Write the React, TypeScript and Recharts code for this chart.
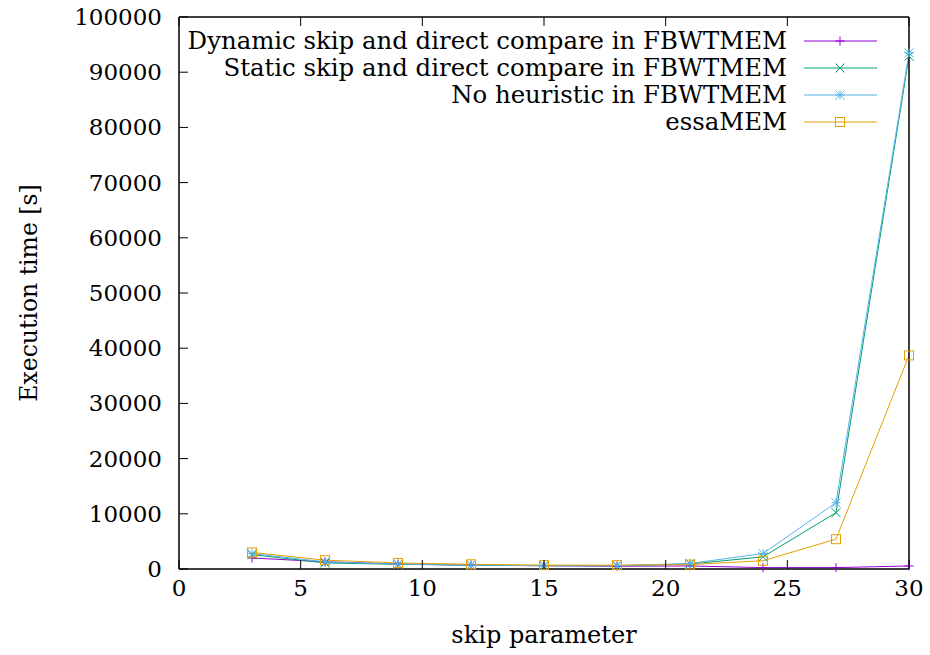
import React from "react";
import { LineChart, Line, XAxis, YAxis } from "recharts";

const skipValues = [3, 6, 9, 12, 15, 18, 21, 24, 27, 30];
const dynamicSkip = [2000, 1300, 900, 700, 600, 500, 550, 250, 250, 550];
const staticSkip = [2600, 1100, 850, 700, 600, 600, 900, 2200, 10200, 92900];
const noHeuristic = [2800, 1300, 900, 700, 600, 600, 1000, 2800, 12000, 93500];
const essaMEM = [3000, 1600, 1100, 850, 700, 700, 800, 1500, 5400, 38700];

const xTicks = [0, 5, 10, 15, 20, 25, 30];
const yTicks = [0, 10000, 20000, 30000, 40000, 50000, 60000, 70000, 80000, 90000, 100000];

const seriesNames = [
  "Dynamic skip and direct compare in FBWTMEM",
  "Static skip and direct compare in FBWTMEM",
  "No heuristic in FBWTMEM",
  "essaMEM",
];
const seriesKeys = ["dyn", "stat", "noh", "essa"];
const seriesColors = ["#9400d3", "#009e73", "#56b4e9", "#e69f00"];
const seriesShapes = ["plus", "cross", "star", "square"];

const data = skipValues.map((s, i) => ({
  skip: s,
  dyn: dynamicSkip[i],
  stat: staticSkip[i],
  noh: noHeuristic[i],
  essa: essaMEM[i],
}));

const FONT = "DejaVu Serif";

function Marker({ cx, cy, shape, color }: any) {
  if (cx == null || cy == null) return null;
  const r = 4.5;
  if (shape === "plus") {
    return (
      <g stroke={color} strokeWidth={1}>
        <line x1={cx - r} y1={cy} x2={cx + r} y2={cy} />
        <line x1={cx} y1={cy - r} x2={cx} y2={cy + r} />
      </g>
    );
  }
  if (shape === "cross") {
    return (
      <g stroke={color} strokeWidth={1}>
        <line x1={cx - r} y1={cy - r} x2={cx + r} y2={cy + r} />
        <line x1={cx - r} y1={cy + r} x2={cx + r} y2={cy - r} />
      </g>
    );
  }
  if (shape === "star") {
    return (
      <g stroke={color} strokeWidth={1}>
        <line x1={cx - r} y1={cy} x2={cx + r} y2={cy} />
        <line x1={cx} y1={cy - r} x2={cx} y2={cy + r} />
        <line x1={cx - r} y1={cy - r} x2={cx + r} y2={cy + r} />
        <line x1={cx - r} y1={cy + r} x2={cx + r} y2={cy - r} />
      </g>
    );
  }
  return (
    <rect x={cx - r} y={cy - r} width={2 * r} height={2 * r} fill="none" stroke={color} strokeWidth={1} />
  );
}

const TICK_LEN = 9;

function BottomTick(props: any) {
  const { x, y, payload } = props;
  return (
    <g>
      <line x1={x} y1={y} x2={x} y2={y - TICK_LEN} stroke="#000" strokeWidth={1} />
      <text x={x} y={y + 27} textAnchor="middle" fontFamily={FONT} fontSize={23} fill="#000">
        {payload.value}
      </text>
    </g>
  );
}
function TopTick(props: any) {
  const { x, y } = props;
  return <line x1={x} y1={y} x2={x} y2={y + TICK_LEN} stroke="#000" strokeWidth={1} />;
}
function LeftTick(props: any) {
  const { x, y, payload } = props;
  return (
    <g>
      <line x1={x} y1={y} x2={x + TICK_LEN} y2={y} stroke="#000" strokeWidth={1} />
      <text x={x - 17} y={y + 8} textAnchor="end" fontFamily={FONT} fontSize={23} fill="#000">
        {payload.value}
      </text>
    </g>
  );
}
function RightTick(props: any) {
  const { x, y } = props;
  return <line x1={x} y1={y} x2={x - TICK_LEN} y2={y} stroke="#000" strokeWidth={1} />;
}

function LegendOverlay() {
  return (
    <div
      style={{
        position: "absolute",
        left: 0,
        top: 27,
        width: 877,
        fontFamily: FONT,
        fontSize: 24.4,
        color: "#000",
        pointerEvents: "none",
      }}
    >
      {seriesNames.map((n, i) => (
        <div key={n} style={{ display: "flex", alignItems: "center", justifyContent: "flex-end", height: 27 }}>
          <span style={{ whiteSpace: "nowrap", lineHeight: "27px" }}>{n}</span>
          <svg width={73} height={20} style={{ marginLeft: 17, display: "block" }}>
            <line x1={0} y1={10} x2={73} y2={10} stroke={seriesColors[i]} strokeWidth={1} />
            <Marker cx={36} cy={10} shape={seriesShapes[i]} color={seriesColors[i]} />
          </svg>
        </div>
      ))}
    </div>
  );
}

export default function App() {
  return (
    <div style={{ position: "absolute", left: 0, top: 0, width: 930, height: 655, background: "#fff" }}>
      <LineChart
        width={930}
        height={655}
        data={data}
        margin={{ top: 16, right: 20, left: 0, bottom: 0 }}
      >
        <XAxis
          xAxisId="b"
          dataKey="skip"
          type="number"
          domain={[0, 30]}
          ticks={xTicks}
          height={86}
          tickLine={false}
          tickSize={0}
          tickMargin={0}
          axisLine={{ stroke: "#000", strokeWidth: 1.5 }}
          tick={<BottomTick />}
          label={{ value: "skip parameter", position: "insideBottom", offset: 12, fontFamily: FONT, fontSize: 24, fill: "#000" }}
        />
        <XAxis
          xAxisId="t"
          orientation="top"
          dataKey="skip"
          type="number"
          domain={[0, 30]}
          ticks={xTicks}
          height={1}
          tickLine={false}
          tickSize={0}
          tickMargin={0}
          axisLine={{ stroke: "#000", strokeWidth: 1.5 }}
          tick={<TopTick />}
        />
        <YAxis
          yAxisId="l"
          type="number"
          domain={[0, 100000]}
          ticks={yTicks}
          width={179}
          tickLine={false}
          tickSize={0}
          tickMargin={0}
          axisLine={{ stroke: "#000", strokeWidth: 1.5 }}
          tick={<LeftTick />}
          label={{ value: "Execution time [s]", angle: -90, position: "insideLeft", offset: 29, fontFamily: FONT, fontSize: 23.5, fill: "#000", style: { textAnchor: "middle" } }}
        />
        <YAxis
          yAxisId="r"
          orientation="right"
          type="number"
          domain={[0, 100000]}
          ticks={yTicks}
          width={1}
          tickLine={false}
          tickSize={0}
          tickMargin={0}
          axisLine={{ stroke: "#000", strokeWidth: 1.5 }}
          tick={<RightTick />}
        />
        {seriesKeys.map((k, i) => (
          <Line
            key={k}
            xAxisId="b"
            yAxisId="l"
            dataKey={k}
            name={seriesNames[i]}
            stroke={seriesColors[i]}
            strokeWidth={1}
            isAnimationActive={false}
            dot={(p: any) => <Marker key={`${k}-${p.index}`} cx={p.cx} cy={p.cy} shape={seriesShapes[i]} color={seriesColors[i]} />}
            activeDot={false}
          />
        ))}
      </LineChart>
      <LegendOverlay />
    </div>
  );
}
